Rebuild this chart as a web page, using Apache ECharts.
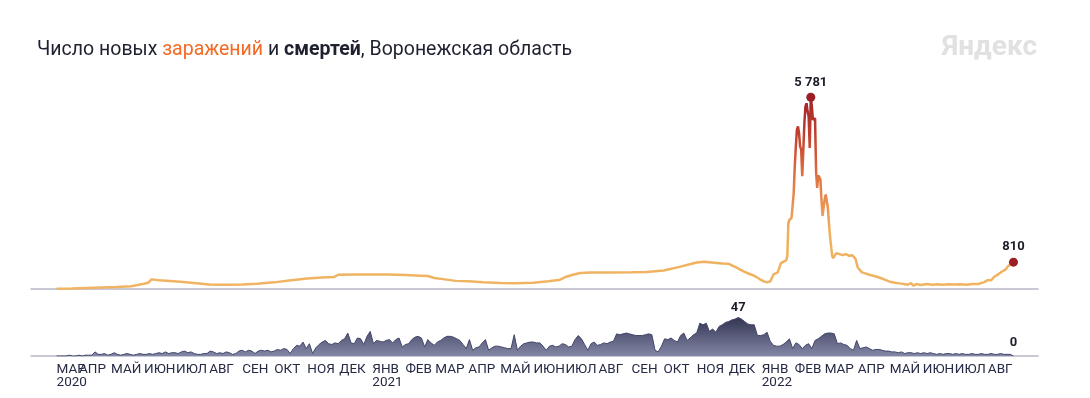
<!DOCTYPE html>
<html>
<head>
<meta charset="utf-8">
<title>Число новых заражений и смертей, Воронежская область</title>
<script src="https://cdn.jsdelivr.net/npm/echarts@6/dist/echarts.min.js"></script>
<style>
  html, body { margin: 0; padding: 0; background: #fff; }
  #chart { width: 1090px; height: 398px; }
</style>
</head>
<body>
<div id="chart"></div>
<script>
// диапазон оси шире данных, чтобы базовая линия выходила за края
const axisStart = '2020-02-16'
const axisEnd = '2022-09-17'
const dataStart = '2020-03-11'
const dataEnd = '2022-08-25'

const monthNames = ['ЯНВ', 'ФЕВ', 'МАР', 'АПР', 'МАЙ', 'ИЮН', 'ИЮЛ', 'АВГ', 'СЕН', 'ОКТ', 'НОЯ', 'ДЕК']

// новые заражения
const caseDates = [
  '2020-03-11', '2020-03-25', '2020-04-08', '2020-04-22', '2020-05-06', '2020-05-20', '2020-06-01', '2020-06-05',
  '2020-06-08', '2020-06-15', '2020-06-25', '2020-07-05', '2020-07-20', '2020-08-01', '2020-08-15', '2020-09-01',
  '2020-09-15', '2020-10-01', '2020-10-15', '2020-11-01', '2020-11-15', '2020-11-26', '2020-11-30', '2020-12-15',
  '2021-01-01', '2021-01-15', '2021-02-01', '2021-02-15', '2021-02-22', '2021-02-28', '2021-03-10', '2021-03-20',
  '2021-04-01', '2021-04-15', '2021-05-01', '2021-05-15', '2021-06-01', '2021-06-15', '2021-06-25', '2021-07-01',
  '2021-07-08', '2021-07-15', '2021-07-25', '2021-08-01', '2021-08-15', '2021-09-01', '2021-09-15', '2021-10-01',
  '2021-10-15', '2021-11-01', '2021-11-08', '2021-11-15', '2021-11-25', '2021-12-01', '2021-12-08', '2021-12-15',
  '2021-12-20', '2021-12-25', '2021-12-30', '2022-01-03', '2022-01-06', '2022-01-09', '2022-01-12', '2022-01-16',
  '2022-01-19', '2022-01-22', '2022-01-24', '2022-01-25', '2022-01-26', '2022-01-27', '2022-01-28', '2022-01-29',
  '2022-01-30', '2022-01-31', '2022-02-01', '2022-02-02', '2022-02-03', '2022-02-04', '2022-02-05', '2022-02-06',
  '2022-02-07', '2022-02-08', '2022-02-09', '2022-02-10', '2022-02-11', '2022-02-12', '2022-02-13', '2022-02-14',
  '2022-02-15', '2022-02-16', '2022-02-17', '2022-02-18', '2022-02-19', '2022-02-20', '2022-02-21', '2022-02-22',
  '2022-02-23', '2022-02-24', '2022-02-25', '2022-02-26', '2022-02-27', '2022-02-28', '2022-03-01', '2022-03-02',
  '2022-03-03', '2022-03-04', '2022-03-05', '2022-03-06', '2022-03-07', '2022-03-08', '2022-03-09', '2022-03-10',
  '2022-03-12', '2022-03-15', '2022-03-18', '2022-03-21', '2022-03-24', '2022-03-27', '2022-03-30', '2022-04-01',
  '2022-04-05', '2022-04-08', '2022-04-12', '2022-04-19', '2022-04-25', '2022-05-01', '2022-05-06', '2022-05-10',
  '2022-05-14', '2022-05-18', '2022-05-21', '2022-05-23', '2022-05-26', '2022-05-30', '2022-06-05', '2022-06-10',
  '2022-06-15', '2022-06-20', '2022-06-25', '2022-07-01', '2022-07-06', '2022-07-12', '2022-07-18', '2022-07-23',
  '2022-07-28', '2022-08-01', '2022-08-04', '2022-08-07', '2022-08-11', '2022-08-14', '2022-08-18', '2022-08-20',
  '2022-08-23', '2022-08-25'
]
const caseValues = [
  5, 15, 30, 45, 60, 85, 160, 190,
  290, 265, 240, 215, 170, 135, 125, 135,
  160, 200, 255, 320, 345, 360, 430, 440,
  440, 435, 420, 400, 390, 330, 290, 245,
  230, 205, 180, 170, 190, 235, 270, 360,
  430, 480, 495, 500, 500, 505, 515, 560,
  660, 800, 820, 800, 770, 760, 650, 530,
  460, 400, 300, 230, 200, 230, 440, 500,
  780, 830, 870, 1000, 2000, 2080, 2100, 2150,
  2200, 2900, 3700, 4300, 4800, 4900, 4700, 4300,
  4200, 3400, 3350, 5000, 5500, 5600, 5350, 5200,
  4250, 5781, 5500, 5100, 5150, 5150, 3500, 3050,
  3430, 3400, 3300, 2700, 2200, 2200, 2700, 2850,
  2800, 2450, 2000, 1600, 1300, 1000, 930, 950,
  1080, 1050, 1020, 1050, 1000, 1020, 900, 650,
  500, 470, 430, 370, 300, 220, 190, 170,
  150, 130, 180, 100, 150, 120, 150, 130,
  145, 125, 140, 135, 140, 130, 150, 150,
  200, 270, 260, 370, 450, 520, 600, 690,
  760, 810
]

// смерти, значения через каждые 3 дня начиная с dataStart
const deathStep = 3
const deathValues = [
  0, 0, 0, 0, 1, 0, 0, 1, 0, 1, 1, 1, 5, 2,
  2, 3, 1, 2, 4, 2, 1, 2, 3, 2, 1, 2, 3, 2, 2, 3, 2,
  3, 4, 3, 5, 3, 4, 4, 3, 5, 6, 4, 5,
  3, 2, 2, 3,
  3, 6, 5, 3, 4, 3, 5, 4, 2, 3,
  6, 7, 5, 7, 6, 3, 6, 7, 6, 7,
  5, 6, 8, 7, 9, 8, 3, 9, 13, 12,
  17, 9, 15, 3, 10, 14, 17, 19, 15, 14,
  16, 15, 19, 21, 28, 16, 15, 22, 21, 14,
  24, 30, 15, 19, 18, 17, 19, 20, 16, 20,
  22, 11, 14, 15, 20, 23, 24, 22, 11, 20,
  16, 13, 17, 19, 22, 24, 24, 23, 21, 19,
  14, 9, 20, 7, 10, 11, 16, 20, 7, 10,
  12, 12, 11, 10, 9, 9, 26, 7, 12, 15,
  16, 17, 17, 16, 16, 12, 7, 12, 13, 11,
  12, 15, 14, 11, 12, 20, 25, 21, 14, 7,
  15, 17, 13, 14, 16, 15, 17, 18, 27, 26,
  27, 28, 27, 26, 25, 25, 25, 26, 27, 26,
  7, 5, 12, 21, 20, 22, 19, 17, 25, 28,
  19, 22, 26, 28, 40, 38, 40, 30, 33, 29,
  36, 38, 41, 42, 44, 45, 47, 45, 42, 39,
  38, 38, 25, 25, 26, 29, 18, 13, 12, 12,
  14, 17, 21, 9, 16, 14, 9, 13, 15, 9,
  19, 21, 24, 27, 28, 28, 27, 15, 16, 14,
  13, 9, 7, 19, 9, 10, 11, 9, 7, 8,
  8, 7, 6, 6, 5, 5, 4, 5, 3, 4,
  4, 3, 4, 3, 4, 3, 4, 3, 2, 3,
  2, 3, 3, 2, 3, 2, 3, 2, 2, 3,
  2, 2, 3, 2, 2, 3, 2, 2, 3, 2,
  2, 2, 0
]

const dayMs = 86400000
const toStr = t => new Date(t).toISOString().slice(0, 10)

const days = []
for (let t = Date.parse(axisStart); t <= Date.parse(axisEnd); t += dayMs) days.push(toStr(t))

const casesData = caseDates.map((d, i) => [d, caseValues[i]])
const deathsData = deathValues.map((v, i) => [toStr(Date.parse(dataStart) + i * deathStep * dayMs), v])

const spaced = v => String(v).replace(/\B(?=(\d{3})+(?!\d))/g, ' ')

// подписи месяцев: первое число каждого месяца внутри данных
const showMonth = (idx, val) => val.slice(8) === '01' && val > dataStart && val <= dataEnd
// отдельная ось только для первой подписи (она налезает на АПР)
const showStart = (idx, val) => val === dataStart

const monthLabel = val => {
  const m = +val.slice(5, 7)
  const name = monthNames[m - 1]
  return (val === dataStart || m === 1) ? name + '\n' + val.slice(0, 4) : name
}

const chart = echarts.init(document.getElementById('chart'))

const baseAxis = {
  type: 'category',
  data: days,
  boundaryGap: false,
  position: 'bottom',
  axisLine: { lineStyle: { color: '#b6b8c6', width: 1.5 } },
  axisTick: { show: false },
  splitLine: { show: false }
}

const labelStyle = {
  formatter: monthLabel,
  hideOverlap: false,
  align: 'left',
  margin: 7,
  color: '#262a45',
  fontSize: 13.5,
  lineHeight: 13,
  fontFamily: 'Roboto'
}

const darkLabel = {
  show: true,
  position: 'top',
  color: '#1c1d2b',
  fontWeight: 'bold',
  fontSize: 13,
  fontFamily: 'Roboto'
}

chart.setOption({
  animation: false,
  title: [
    {
      text: '{n|Число новых }{o|заражений}{n| и }{b|смертей}{n|, Воронежская область}',
      left: 32,
      top: 35,
      textStyle: {
        fontWeight: 'normal',
        rich: {
          n: { fontSize: 19.5, color: '#1f2130', fontWeight: 'normal', fontFamily: 'Roboto' },
          o: { fontSize: 19.5, color: '#f26a24', fontWeight: 'normal', fontFamily: 'Roboto' },
          b: { fontSize: 19.5, color: '#1f2130', fontWeight: 'bold', fontFamily: 'Roboto' }
        }
      }
    },
    {
      text: 'Яндекс',
      right: 48,
      top: 29,
      textStyle: { color: '#e1e1e1', fontSize: 28, fontWeight: 'bold', fontFamily: 'Roboto' }
    }
  ],
  grid: [
    { left: 31, right: 52, top: 90, height: 199 },
    { left: 31, right: 52, top: 315, height: 41 }
  ],
  xAxis: [
    Object.assign({ gridIndex: 0, axisLabel: { show: false } }, baseAxis),
    Object.assign({ gridIndex: 1, axisLabel: Object.assign({ interval: showMonth }, labelStyle) }, baseAxis),
    Object.assign({}, baseAxis, {
      gridIndex: 1,
      offset: 0,
      axisLine: { show: false },
      axisLabel: Object.assign({ interval: showStart }, labelStyle)
    })
  ],
  yAxis: [
    { gridIndex: 0, type: 'value', min: 0, max: 6000, show: false },
    { gridIndex: 1, type: 'value', min: 0, max: 50, show: false }
  ],
  series: [
    {
      name: 'Заражения',
      type: 'line',
      xAxisIndex: 0,
      yAxisIndex: 0,
      data: casesData,
      showSymbol: false,
      clip: false,
      lineStyle: {
        width: 2.5,
        color: new echarts.graphic.LinearGradient(0, 289, 0, 97, [
          { offset: 0, color: '#f0b462' },
          { offset: 0.3, color: '#efaf5d' },
          { offset: 0.45, color: '#e99050' },
          { offset: 0.62, color: '#dc6a3e' },
          { offset: 0.8, color: '#c3412f' },
          { offset: 1, color: '#a0232a' }
        ], true)
      },
      markPoint: {
        symbol: 'circle',
        symbolSize: 9,
        itemStyle: { color: '#9c1f25' },
        label: Object.assign({ distance: 4 }, darkLabel),
        data: [
          { type: 'max', label: { formatter: p => spaced(p.value) } },
          {
            coord: [caseDates[caseDates.length - 1], caseValues[caseValues.length - 1]],
            value: caseValues[caseValues.length - 1],
            label: { formatter: p => spaced(p.value) }
          }
        ]
      }
    },
    {
      name: 'Смерти',
      type: 'line',
      xAxisIndex: 1,
      yAxisIndex: 1,
      data: deathsData,
      showSymbol: false,
      lineStyle: { width: 1, color: '#44476a' },
      areaStyle: {
        opacity: 1,
        color: new echarts.graphic.LinearGradient(0, 316, 0, 356, [
          { offset: 0, color: '#2f314e' },
          { offset: 1, color: '#8387a6' }
        ], true)
      },
      markPoint: {
        symbol: 'circle',
        symbolSize: 1,
        itemStyle: { color: 'rgba(0,0,0,0)' },
        label: Object.assign({ distance: 3 }, darkLabel),
        data: [
          { type: 'max', label: { formatter: p => String(p.value) } },
          {
            coord: [deathsData[deathsData.length - 1][0], deathValues[deathValues.length - 1]],
            value: deathValues[deathValues.length - 1],
            label: { formatter: p => String(p.value), distance: 6 }
          }
        ]
      }
    }
  ]
})

window.addEventListener('resize', () => chart.resize())
</script>
</body>
</html>
